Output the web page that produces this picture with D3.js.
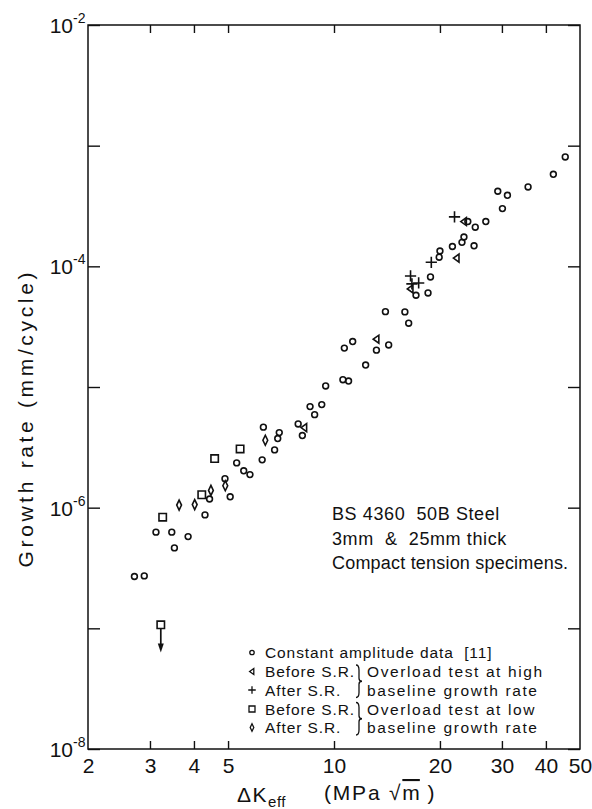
<!DOCTYPE html>
<html>
<head>
<meta charset="utf-8">
<script src="https://cdn.jsdelivr.net/npm/d3@7"></script>
<style>
  body { margin: 0; background: #fff; }
  text { font-family: "Liberation Sans", Arial, sans-serif; fill: #111; }
</style>
</head>
<body>
<svg id="chart" width="592" height="809"></svg>
<script>
// Delta K_eff (MPa sqrt m), growth rate (mm/cycle)
const constantAmplitude = [
  [2.71, 2.69e-7], [2.89, 2.72e-7], [3.12, 6.27e-7], [3.46, 6.27e-7], [3.52, 4.64e-7],
  [3.85, 5.76e-7], [4.30, 8.71e-7], [4.43, 1.18e-6], [4.90, 1.74e-6], [5.07, 1.23e-6],
  [5.29, 2.35e-6], [5.54, 2.02e-6], [5.77, 1.88e-6], [6.30, 4.65e-6], [6.25, 2.49e-6],
  [6.99, 4.19e-6], [6.92, 3.74e-6], [6.78, 3.01e-6], [7.91, 4.94e-6], [8.13, 3.96e-6],
  [8.55, 6.88e-6], [8.81, 5.90e-6], [9.23, 7.15e-6], [9.47, 1.02e-5], [10.6, 1.15e-5],
  [11.0, 1.12e-5], [10.7, 2.10e-5], [11.3, 2.38e-5], [12.3, 1.52e-5], [13.2, 2.02e-5],
  [14.3, 2.23e-5], [14.0, 4.21e-5], [15.9, 4.19e-5], [16.3, 3.38e-5], [17.1, 5.76e-5],
  [18.5, 6.02e-5], [18.8, 8.17e-5], [19.9, 1.19e-4], [20.0, 1.34e-4], [21.7, 1.46e-4],
  [23.1, 1.58e-4], [23.4, 1.75e-4], [25.0, 1.48e-4], [24.0, 2.35e-4], [25.2, 2.11e-4],
  [27.0, 2.35e-4], [29.2, 4.19e-4], [31.1, 3.88e-4], [30.1, 3.01e-4], [35.6, 4.55e-4],
  [42.0, 5.79e-4], [45.4, 8.06e-4]
];
const beforeHigh = [[8.23, 4.61e-6], [13.2, 2.49e-5], [16.5, 6.50e-5], [22.3, 1.17e-4], [23.4, 2.35e-4]];
const afterHigh = [[16.5, 8.32e-5], [16.65, 7.15e-5], [17.4, 7.28e-5], [18.9, 1.08e-4], [22.0, 2.57e-4]];
const beforeLow = [[3.26, 8.34e-7], [4.21, 1.28e-6], [4.58, 2.55e-6], [5.41, 3.07e-6], [3.22, 1.07e-7]];
const afterLow = [[3.63, 1.05e-6], [4.02, 1.06e-6], [4.47, 1.39e-6], [4.91, 1.52e-6], [6.38, 3.62e-6]];
// run-out point: x, from rate, arrow tip rate
const runout = [[3.22, 1.07e-7, 6.3e-8]];

const xTicks = [2, 3, 4, 5, 10, 20, 30, 40, 50];
const yTicks = [1e-2, 1e-3, 1e-4, 1e-5, 1e-6, 1e-7, 1e-8];
const yLabelExps = [-2, -4, -6, -8];
const noteLines = ["BS 4360  50B Steel", "3mm  &  25mm thick", "Compact tension specimens."];
const legendRows = [
  { sym: "circle", label: "Constant amplitude data  [11]" },
  { sym: "tri", label: "Before S.R." },
  { sym: "plus", label: "After S.R." },
  { sym: "square", label: "Before S.R." },
  { sym: "diamond", label: "After S.R." }
];
const braceNotes = [["Overload test at high", "baseline growth rate"], ["Overload test at low", "baseline growth rate"]];

const svg = d3.select("#chart");
const L = 88, R = 580, T = 25, B = 749;
const x = d3.scaleLog().domain([2, 50]).range([L, R]);
const y = d3.scaleLog().domain([1e-8, 1e-2]).range([B, T]);

// axes (ticks inward)
const inner = xTicks.slice(1, -1);
svg.append("g").attr("transform", `translate(0,${B})`)
  .call(d3.axisBottom(x).tickValues(xTicks).tickSizeInner(-8).tickSizeOuter(0).tickPadding(9)
    .tickFormat(d3.format("d")))
  .call(g => g.select(".domain").remove())
  .call(g => g.selectAll(".tick line").filter(d => !inner.includes(d)).remove())
  .call(g => g.selectAll("text").attr("font-size", 21).attr("font-family", null).attr("fill", "#111"));
svg.append("g").attr("transform", `translate(0,${T})`)
  .call(d3.axisTop(x).tickValues(inner).tickSizeInner(-8).tickSizeOuter(0).tickFormat(""))
  .call(g => g.select(".domain").remove());
svg.append("g").attr("transform", `translate(${L},0)`)
  .call(d3.axisLeft(y).tickValues(yTicks).tickSizeInner(-12).tickSizeOuter(0).tickFormat(""))
  .call(g => g.select(".domain").remove());
svg.append("g").attr("transform", `translate(${R},0)`)
  .call(d3.axisRight(y).tickValues(yTicks).tickSizeInner(-12).tickSizeOuter(0).tickFormat(""))
  .call(g => g.select(".domain").remove());
svg.selectAll(".tick line").attr("stroke", "#111").attr("stroke-width", 1.4);

svg.append("rect").attr("x", L).attr("y", T).attr("width", R - L).attr("height", B - T)
  .attr("fill", "none").attr("stroke", "#111").attr("stroke-width", 1.5);

// y labels 10^n
const yl = svg.append("g").selectAll("g").data(yLabelExps).join("g");
yl.append("text").attr("x", 73).attr("y", d => y(Math.pow(10, d)) + 8)
  .attr("text-anchor", "end").attr("font-size", 21).text("10");
yl.append("text").attr("x", 73).attr("y", d => y(Math.pow(10, d)) - 2)
  .attr("font-size", 14).text(d => "-" + Math.abs(d));

// axis titles
svg.append("text")
  .attr("transform", "translate(33,420) rotate(-90)")
  .attr("text-anchor", "middle").attr("font-size", 21)
  .attr("textLength", 295).attr("lengthAdjust", "spacing")
  .text("Growth rate  (mm/cycle)");
const xt = svg.append("text").attr("x", 237).attr("y", 802).attr("font-size", 21).attr("letter-spacing", 1.5);
xt.append("tspan").text("\u0394K");
xt.append("tspan").attr("font-size", 15).attr("dy", 5).attr("letter-spacing", 0.5).text("eff");
const xu = svg.append("text").attr("x", 324).attr("y", 800).attr("font-size", 21).attr("letter-spacing", 1.8);
xu.append("tspan").text("(MPa \u221A");
xu.append("tspan").style("text-decoration", "overline").attr("letter-spacing", 0).text("m");
xu.append("tspan").text(" )");

// markers
const g = svg.append("g").attr("fill", "none").attr("stroke", "#111").attr("stroke-width", 1.6);
function symbolPath(type, cx, cy, s) {
  if (type === "tri") return `M${cx - s * 0.8},${cy} L${cx + s * 0.6},${cy - s} L${cx + s * 0.6},${cy + s} Z`;
  if (type === "plus") return `M${cx - s * 1.25},${cy} H${cx + s * 1.25} M${cx},${cy - s * 1.25} V${cy + s * 1.25}`;
  if (type === "square") return `M${cx - s},${cy - s} h${2 * s} v${2 * s} h${-2 * s} Z`;
  if (type === "diamond") return `M${cx},${cy - s * 1.25} L${cx + s * 0.6},${cy} L${cx},${cy + s * 1.25} L${cx - s * 0.6},${cy} Z`;
  return "";
}
g.selectAll("circle.ca").data(constantAmplitude).join("circle")
  .attr("cx", d => x(d[0])).attr("cy", d => y(d[1])).attr("r", 2.9);
g.selectAll("path.bh").data(beforeHigh).join("path").attr("class", "bh")
  .attr("d", d => symbolPath("tri", x(d[0]), y(d[1]), 4));
g.selectAll("path.ah").data(afterHigh).join("path").attr("class", "ah")
  .attr("d", d => symbolPath("plus", x(d[0]), y(d[1]), 4.5));
g.selectAll("path.bl").data(beforeLow).join("path").attr("class", "bl")
  .attr("d", d => symbolPath("square", x(d[0]), y(d[1]), 3.7));
g.selectAll("path.al").data(afterLow).join("path").attr("class", "al")
  .attr("d", d => symbolPath("diamond", x(d[0]), y(d[1]), 4));

// run-out arrow
runout.forEach(d => {
  const cx = x(d[0]), y0 = y(d[1]) + 4, y1 = y(d[2]);
  svg.append("line").attr("x1", cx).attr("x2", cx).attr("y1", y0).attr("y2", y1 - 6)
    .attr("stroke", "#111").attr("stroke-width", 1.7);
  svg.append("path").attr("d", `M${cx - 3},${y1 - 9} L${cx + 3},${y1 - 9} L${cx},${y1} Z`).attr("fill", "#111");
});

// annotation
svg.append("g").selectAll("text").data(noteLines).join("text")
  .attr("x", 332).attr("y", (d, i) => 520 + i * 24.5).attr("font-size", 18)
  .attr("letter-spacing", (d, i) => i === 2 ? 0.2 : 0.6).attr("xml:space", "preserve")
  .text(d => d);

// legend
const rowY = [658, 677, 695.5, 714.5, 733];
const lg = svg.append("g");
legendRows.forEach((r, i) => {
  const cy = rowY[i] - 5.5;
  if (r.sym === "circle") lg.append("circle").attr("cx", 252).attr("cy", cy).attr("r", 2.2)
    .attr("fill", "none").attr("stroke", "#111").attr("stroke-width", 1.3);
  else lg.append("path").attr("d", symbolPath(r.sym, 252, cy, 3))
    .attr("fill", "none").attr("stroke", "#111").attr("stroke-width", 1.3);
  lg.append("text").attr("x", 265).attr("y", rowY[i]).attr("font-size", 15.5)
    .attr("letter-spacing", 0.9).attr("xml:space", "preserve").text(r.label);
});
function brace(bx, y0, y1, w) {
  const m = (y0 + y1) / 2;
  return `M${bx},${y0} Q${bx + w},${y0} ${bx + w},${y0 + 5} L${bx + w},${m - 3} Q${bx + w},${m} ${bx + 2 * w},${m}` +
    ` Q${bx + w},${m} ${bx + w},${m + 3} L${bx + w},${y1 - 5} Q${bx + w},${y1} ${bx},${y1}`;
}
braceNotes.forEach((b, i) => {
  const r0 = rowY[1 + 2 * i], r1 = rowY[2 + 2 * i];
  lg.append("path").attr("d", brace(356, r0 - 12, r1 + 2, 3))
    .attr("fill", "none").attr("stroke", "#111").attr("stroke-width", 1.3);
  lg.append("text").attr("x", 367).attr("y", r0).attr("font-size", 15.5).attr("letter-spacing", 1.6).text(b[0]);
  lg.append("text").attr("x", 367).attr("y", r1).attr("font-size", 15.5).attr("letter-spacing", 1.6).text(b[1]);
});
</script>
</body>
</html>
